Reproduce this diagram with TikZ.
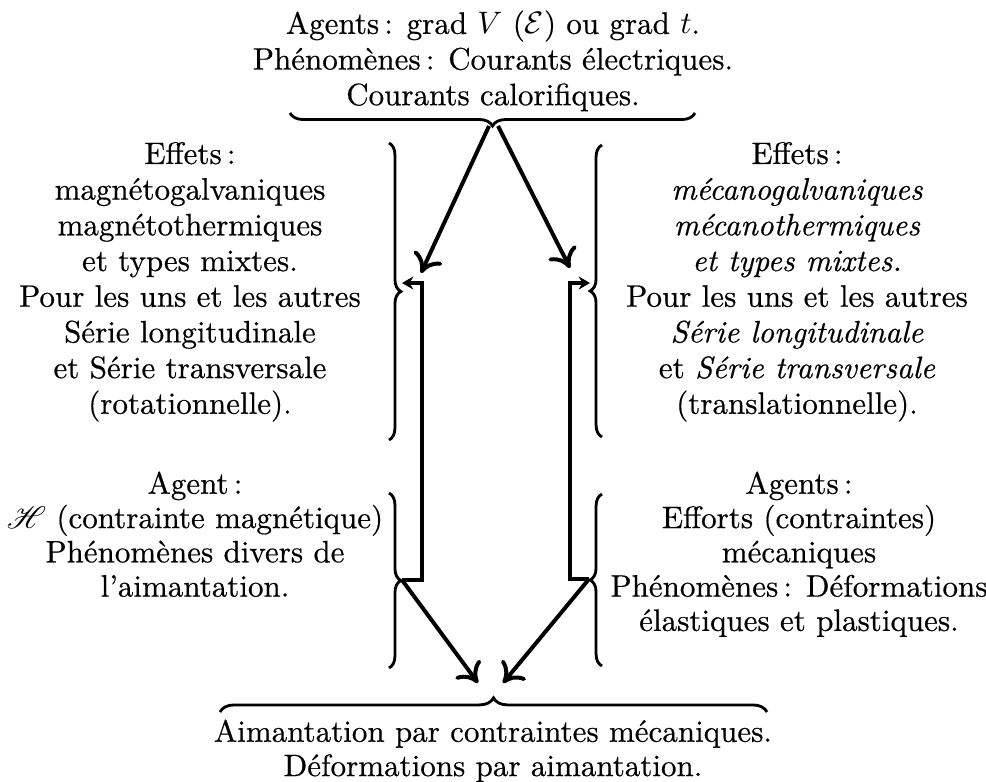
\documentclass[tikz,border=0pt]{standalone}
\usepackage{fontspec}
\setmainfont{Latin Modern Roman}[FakeBold=0.5]
\usepackage{mathrsfs}
\usetikzlibrary{decorations.pathreplacing,arrows.meta}

\tikzset{
  bloc/.style={align=center, inner sep=0pt, anchor=north,
    font=\fontsize{10.95}{12.6}\selectfont},
  blocbas/.style={bloc, font=\fontsize{10.95}{12.1}\selectfont},
  accolade/.style={decorate, decoration={brace, amplitude=#1}, line width=1pt},
  accolade/.default=4.2pt,
  fleche/.style={line width=1.4pt, -{Computer Modern Rightarrow[length=6.5pt,width=11pt]}},
  crochet/.style={line width=1.4pt, -{Stealth[length=4pt,width=4.6pt]}}
}

\begin{document}
\begin{tikzpicture}[x=0.353pt,y=-0.353pt]
\useasboundingbox (0,0) rectangle (986,781);

% textes
\node[bloc] (agents) at (493,10) {Agents\,: grad $V$ ($\mathcal{E}$) ou grad $t$.\\
  Phénomènes\,: Courants électriques.\\Courants calorifiques.};
\node[bloc] (effetsg) at (190,141.5) {Effets\,:\\magnétogalvaniques\\magnétothermiques\\
  et types mixtes.\\Pour les uns et les autres\\Série longitudinale\\
  et Série transversale\\(rotationnelle).};
\node[bloc] (effetsd) at (797,141.5) {Effets\,:\\\textit{mécanogalvaniques}\\
  \textit{mécanothermiques}\\\textit{et types mixtes.}\\Pour les uns et les autres\\
  \textit{Série longitudinale}\\et \textit{Série transversale}\\(translationnelle).};
\node[blocbas] (agentg) at (195,471) {Agent\,:\\$\mathscr{H}$ (contrainte magnétique)\\
  Phénomènes divers de\\l'aimantation.};
\node[blocbas] (agentd) at (799,471) {Agents\,:\\Efforts (contraintes)\\mécaniques\\
  Phénomènes\,: Déformations\\élastiques et plastiques.};
\node[blocbas] (aimant) at (493,719) {Aimantation par contraintes mécaniques.\\
  Déformations par aimantation.};

% accolades
\draw[accolade=4.6pt] (695,113) -- (290,113);
\draw[accolade=5pt] (220,712) -- (767,712);
\draw[accolade] (389,143) -- (389,440);
\draw[accolade] (602,437) -- (602,145);
\draw[accolade] (389,493) -- (389,668);
\draw[accolade] (602,666) -- (602,494);

% points
\coordinate (tg) at (489,126);
\coordinate (td) at (498,126);
\coordinate (ag) at (421,273);
\coordinate (ad) at (570,268);
\coordinate (gB) at (402,580);
\coordinate (dB) at (589,579);
\coordinate (cg) at (422,283);
\coordinate (cd) at (570,283);
\coordinate (fg) at (402,283);
\coordinate (fd) at (590,283);
\coordinate (pg) at (478,683);
\coordinate (pd) at (503,683);

% fleches
\draw[fleche] (tg) -- (ag);
\draw[fleche] (td) -- (ad);
\draw[crochet] (gB) -| (cg) -- (fg);
\draw[crochet] (dB) -| (cd) -- (fd);
\draw[fleche] (gB) -- (pg);
\draw[fleche] (dB) -- (pd);
\end{tikzpicture}
\end{document}
